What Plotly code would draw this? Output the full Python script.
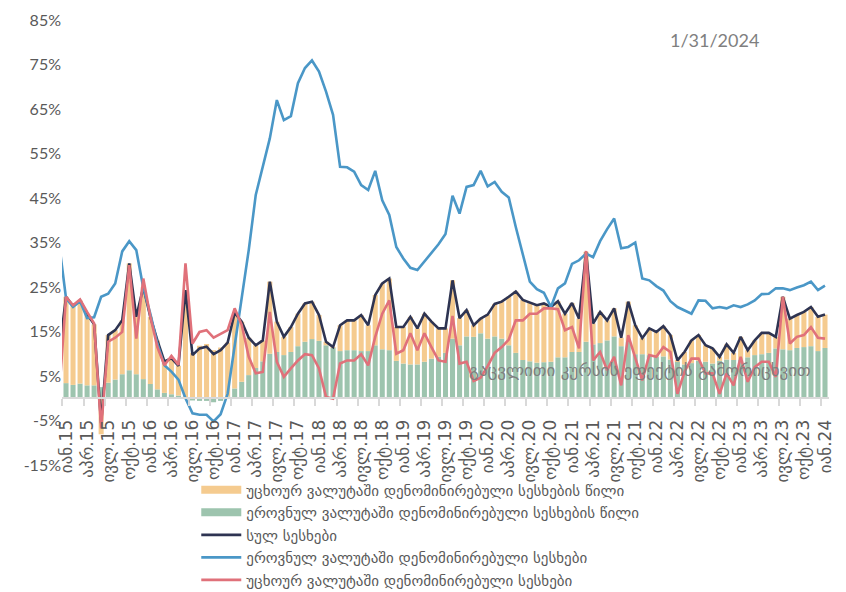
import plotly.graph_objects as go

# Month abbreviations (Georgian) and years shown on the quarterly tick labels
month_abbr = ["იან", "აპრ", "ივლ", "ოქტ"]
years = list(range(15, 25))

# Monthly annual growth, Jan-2015 .. Jan-2024 (bars: contributions to total growth, %)
national_share = [
    3.4, 3.0, 3.3, 2.9, 2.9, 2.5, 3.5, 4.2, 5.4, 6.3, 5.4, 4.3,
    3.2, 2.0, 1.2, 0.9, 0.6, 0.2, -0.5, -0.6, -0.6, -0.9, -0.6, 0.4,
    2.2, 3.7, 5.2, 6.8, 8.3, 10.0, 10.4, 9.7, 10.4, 11.7, 12.7, 13.3,
    12.9, 11.9, 11.3, 10.6, 10.8, 10.8, 10.6, 10.6, 11.9, 11.0, 10.8, 8.4,
    7.8, 7.6, 7.6, 8.2, 8.9, 9.3, 10.2, 13.4, 11.9, 13.9, 13.8, 14.6,
    13.4, 13.9, 13.4, 11.9, 10.2, 8.6, 8.3, 8.0, 8.1, 8.2, 9.2, 9.2,
    10.4, 10.4, 12.7, 12.1, 12.4, 13.0, 13.9, 11.7, 12.7, 9.9, 9.9, 9.7,
    9.3, 9.4, 8.7, 8.2, 7.6, 7.9, 8.4, 8.2, 7.8, 8.4, 8.7, 8.6,
    8.7, 9.2, 9.7, 9.9, 10.2, 11.2, 11.0, 10.8, 11.3, 11.5, 11.7, 10.6,
    11.3,
]
foreign_share = [
    19.4, 17.7, 18.7, 16.0, 13.7, -8.1, 10.7, 11.1, 12.1, 24.0, 12.9, 20.7,
    15.1, 11.0, 7.1, 8.1, 6.7, 24.1, 10.2, 11.8, 12.2, 10.8, 11.4, 12.1,
    17.0, 13.5, 8.4, 5.1, 4.7, 16.2, 6.8, 4.1, 5.6, 7.3, 8.6, 8.4,
    5.8, 0.8, 0.2, 5.8, 6.7, 6.7, 8.1, 5.8, 11.3, 14.8, 16.1, 7.6,
    8.2, 10.7, 8.1, 10.8, 8.3, 6.4, 5.5, 13.1, 6.1, 5.9, 2.6, 3.3,
    5.4, 7.3, 8.3, 10.9, 13.8, 13.5, 13.2, 12.9, 13.2, 12.3, 12.6, 9.8,
    11.0, 7.5, 20.2, 4.7, 7.0, 4.5, 6.3, 1.9, 9.0, 6.5, 3.6, 6.0,
    5.6, 6.8, 5.5, 0.3, 2.8, 5.1, 5.8, 3.7, 3.4, 0.9, 3.4, 1.6,
    5.1, 1.6, 3.3, 4.8, 4.5, 2.6, 11.8, 7.1, 7.4, 7.9, 8.8, 7.7,
    7.5,
]

# Lines: Dec-2014 .. Jan-2024 (first value sits just left of the plot area)
total_loans = [
    10.0,
    22.8, 20.7, 22.0, 18.9, 16.6, -5.6, 14.2, 15.3, 17.5, 30.3, 18.3, 25.0,
    18.3, 13.0, 8.3, 9.0, 7.3, 24.3, 9.7, 11.2, 11.6, 9.9, 10.8, 12.5,
    19.2, 17.2, 13.6, 11.9, 13.0, 26.2, 17.2, 13.8, 16.0, 19.0, 21.3, 21.7,
    18.7, 12.7, 11.5, 16.4, 17.5, 17.5, 18.7, 16.4, 23.2, 25.8, 26.9, 16.0,
    16.0, 18.3, 15.7, 19.0, 17.2, 15.7, 15.7, 26.5, 18.0, 19.8, 16.4, 17.9,
    18.8, 21.2, 21.7, 22.8, 24.0, 22.1, 21.5, 20.9, 21.3, 20.5, 21.8, 19.0,
    21.4, 17.9, 32.9, 16.8, 19.4, 17.5, 20.2, 13.6, 21.7, 16.4, 13.5, 15.7,
    14.9, 16.2, 14.2, 8.5, 10.4, 13.0, 14.2, 11.9, 11.2, 9.3, 12.1, 10.2,
    13.8, 10.8, 13.0, 14.7, 14.7, 13.8, 22.8, 17.9, 18.7, 19.4, 20.5, 18.3,
    18.8,
]
national_loans = [
    35.0,
    22.5, 20.5, 21.8, 18.0, 18.2, 22.8, 23.5, 25.8, 33.0, 35.3, 33.3, 24.8,
    19.0, 12.3, 7.4, 6.0, 4.2, 0.0, -3.4, -3.7, -3.7, -5.2, -3.6, 1.0,
    11.5, 22.0, 33.3, 45.7, 52.0, 58.4, 67.0, 62.5, 63.4, 70.8, 74.2, 75.9,
    73.4, 68.9, 63.7, 52.0, 51.9, 50.9, 47.9, 46.8, 51.1, 44.5, 41.2, 34.0,
    31.4, 29.3, 28.8, 30.7, 32.7, 34.6, 36.9, 45.5, 41.5, 47.5, 47.9, 51.1,
    47.6, 48.6, 46.4, 45.1, 38.5, 32.2, 26.2, 24.5, 23.7, 20.5, 24.7, 25.8,
    30.2, 31.0, 32.5, 31.7, 35.3, 38.0, 40.4, 33.7, 34.0, 35.0, 26.9, 26.5,
    25.2, 24.2, 21.8, 20.5, 19.8, 19.0, 22.0, 21.9, 20.2, 20.5, 20.2, 20.9,
    20.5, 21.1, 22.0, 23.4, 23.5, 24.7, 24.7, 24.3, 24.9, 25.4, 26.2, 24.3,
    25.3,
]
foreign_loans = [
    0.3,
    22.8, 20.9, 22.2, 19.4, 16.8, -6.8, 12.7, 13.6, 14.9, 29.9, 13.4, 26.9,
    18.3, 11.5, 7.4, 9.5, 7.5, 30.3, 12.3, 14.9, 15.3, 13.6, 14.4, 15.3,
    20.2, 16.5, 9.3, 5.6, 5.9, 19.4, 8.2, 4.8, 6.7, 8.5, 9.9, 9.7,
    6.7, 0.3, -0.1, 7.8, 8.5, 8.5, 9.9, 7.4, 13.8, 19.0, 22.0, 10.0,
    10.8, 14.6, 10.8, 14.6, 11.5, 8.5, 8.2, 18.5, 7.8, 8.2, 3.9, 4.6,
    7.2, 10.2, 11.5, 13.2, 17.5, 17.5, 19.0, 19.0, 20.2, 20.2, 20.0, 15.3,
    16.0, 11.2, 33.1, 8.5, 10.4, 6.3, 9.3, 2.9, 14.2, 9.3, 4.0, 9.7,
    9.3, 11.5, 10.4, 1.0, 5.9, 8.9, 8.9, 5.6, 5.6, 1.0, 5.6, 2.9,
    9.3, 3.7, 7.0, 8.2, 8.2, 4.8, 22.8, 12.3, 13.8, 14.2, 16.0, 13.6,
    13.4,
]

y_ticks = list(range(-15, 86, 10))

series_names = [
    "უცხოურ ვალუტაში დენომინირებული სესხების წილი",
    "ეროვნულ ვალუტაში დენომინირებული სესხების წილი",
    "სულ სესხები",
    "ეროვნულ ვალუტაში დენომინირებული სესხები",
    "უცხოურ ვალუტაში დენომინირებული სესხები",
]

C_ORANGE = "#F5CB8F"
C_GREEN = "#9DC4AE"
C_TOTAL = "#2E3452"
C_BLUE = "#4A97C7"
C_RED = "#E0717A"

n_bars = len(national_share)
bar_x = list(range(n_bars))
line_x = list(range(-1, n_bars))

tick_vals = list(range(0, n_bars, 3))
tick_text = [f"{month_abbr[(k // 3) % 4]}.{years[k // 12]}" for k in tick_vals]

fig = go.Figure()

fig.add_trace(go.Bar(x=bar_x, y=national_share, marker_color=C_GREEN,
                     marker_line_width=0, name=series_names[1], showlegend=False))
fig.add_trace(go.Bar(x=bar_x, y=foreign_share, marker_color=C_ORANGE,
                     marker_line_width=0, name=series_names[0], showlegend=False))

# legend swatches for the stacked bars
fig.add_trace(go.Scatter(x=[None], y=[None], mode="lines", name=series_names[0],
                         line=dict(color=C_ORANGE, width=8), legendrank=1))
fig.add_trace(go.Scatter(x=[None], y=[None], mode="lines", name=series_names[1],
                         line=dict(color=C_GREEN, width=8), legendrank=2))

fig.add_trace(go.Scatter(x=line_x, y=total_loans, mode="lines", name=series_names[2],
                         line=dict(color=C_TOTAL, width=2.6), legendrank=3))
fig.add_trace(go.Scatter(x=line_x, y=national_loans, mode="lines", name=series_names[3],
                         line=dict(color=C_BLUE, width=2.6), legendrank=4))
fig.add_trace(go.Scatter(x=line_x, y=foreign_loans, mode="lines", name=series_names[4],
                         line=dict(color=C_RED, width=2.6), legendrank=5))

fig.update_layout(
    width=846, height=592,
    margin=dict(l=62, r=17, t=20, b=127, autoexpand=False),
    paper_bgcolor="white", plot_bgcolor="white",
    barmode="relative", bargap=0.28,
    font=dict(family="Lato, DejaVu Sans, sans-serif", color="#595959"),
    legend=dict(
        xref="container", yref="container",
        x=0.232, y=0.2, xanchor="left", yanchor="top",
        font=dict(family="DejaVu Sans", size=15, color="#595959"),
        tracegroupgap=0, itemwidth=40, bgcolor="rgba(0,0,0,0)",
    ),
    xaxis=dict(
        range=[-0.57, n_bars - 0.43],
        anchor="free", position=0.15,
        tickmode="array", tickvals=tick_vals, ticktext=tick_text,
        tickangle=-90, ticks="", ticklabelstandoff=14,
        tickfont=dict(family="DejaVu Sans", size=17, color="#595959"),
        showline=True, linecolor="#D9D9D9", linewidth=1.5,
        showgrid=False, zeroline=False, automargin=False,
        minor=dict(tickvals=[v - 0.5 for v in tick_vals], ticks="outside",
                   ticklen=7, tickcolor="#D9D9D9", tickwidth=1.5, showgrid=False),
    ),
    yaxis=dict(
        range=[-15, 85], tickmode="array", tickvals=y_ticks,
        ticktext=[f"{v}%" for v in y_ticks],
        tickfont=dict(family="Lato", size=16, color="#595959"),
        showgrid=False, zeroline=False, showline=False, ticks="", automargin=False,
    ),
    annotations=[
        dict(text="1/31/2024", xref="paper", yref="paper", x=0.851, y=0.955,
             xanchor="center", yanchor="middle",
             showarrow=False, font=dict(family="Lato", size=18, color="#7F7F7F")),
        dict(text="გაცვლითი კურსის ეფექტის გამორიცხვით", xref="paper", yref="paper",
             x=0.754, y=0.213, xanchor="center", yanchor="middle", showarrow=False,
             font=dict(family="DejaVu Sans", size=17, color="#7F7F7F")),
    ],
)

fig.write_html("out.html")
